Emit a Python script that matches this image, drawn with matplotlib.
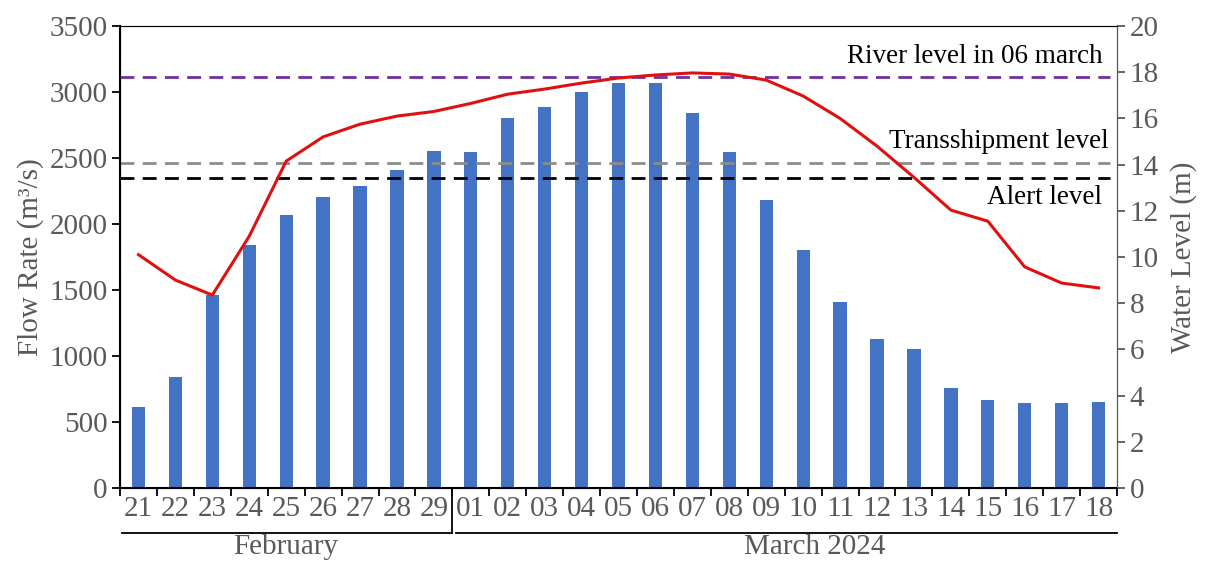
import numpy as np
import matplotlib.pyplot as plt

plt.rcParams['font.family'] = ['Liberation Serif', 'DejaVu Serif']

days = ['21', '22', '23', '24', '25', '26', '27', '28', '29',
        '01', '02', '03', '04', '05', '06', '07', '08', '09', '10',
        '11', '12', '13', '14', '15', '16', '17', '18']
flow_rate = [610, 840, 1460, 1840, 2065, 2205, 2290, 2410, 2555,
             2545, 2805, 2885, 3000, 3070, 3070, 2840, 2545, 2180, 1800,
             1410, 1130, 1050, 760, 665, 645, 645, 650]
water_level = [10.1, 9.0, 8.35, 10.9, 14.15, 15.2, 15.75, 16.1, 16.3,
               16.65, 17.05, 17.27, 17.53, 17.75, 17.88, 17.97, 17.92, 17.66, 16.97,
               16.0, 14.8, 13.45, 12.03, 11.55, 9.57, 8.87, 8.66]
river_0306 = 17.8
transship = 14.05
alert = 13.4
months = ['February', 'March 2024']
feb_days = 9

gray = '#595959'
fs = 21
fs_note = 19.5
fig = plt.figure(figsize=(12.05, 5.66), dpi=100)
ax = fig.add_axes([0.0996, 0.138, 0.8274, 0.816])
x = np.arange(len(days))

ax.bar(x, flow_rate, width=0.36, color='#4472C4', zorder=2)
ax.set_xlim(-0.5, len(days) - 0.5)
ax.set_ylim(0, 3500)
ax.set_yticks(np.arange(0, 3501, 500))
ax.set_xticks(x)
ax.set_xticklabels(days)
ax.set_xticks(np.arange(-0.5, len(days), 1), minor=True)
ax.tick_params(axis='x', which='major', length=0, pad=6, labelsize=fs, labelcolor=gray)
ax.tick_params(axis='x', which='minor', length=6, width=1.3, direction='out')
ax.tick_params(axis='y', length=6, width=1.3, pad=3, labelsize=fs, labelcolor=gray)
ax.set_ylabel('Flow Rate (m³/s)', fontsize=fs, color=gray, labelpad=4)
for s in ['left', 'bottom']:
    ax.spines[s].set_linewidth(1.5)
ax.spines['top'].set_color('#333333')

ax2 = ax.twinx()
ax2.plot(x, water_level, color='#E01010', lw=2.2, zorder=3)
ax2.axhline(river_0306, xmax=0.993, color='#7030A0', ls=(0, (5, 3)), lw=2)
ax2.axhline(transship, xmax=0.993, color='#8C8C8C', ls=(0, (5, 3)), lw=2)
ax2.axhline(alert, xmax=0.993, color='black', ls=(0, (5, 3)), lw=2)
ax2.set_ylim(0, 20)
ax2.set_yticks(np.arange(0, 21, 2))
ax2.tick_params(axis='y', length=6, width=1.3, pad=3, labelsize=fs, colors=gray)
ax2.spines['right'].set_color(gray)
ax2.set_ylabel('Water Level (m)', fontsize=fs, color=gray, labelpad=8)

ax2.text(26.1, river_0306 + 0.35, 'River level in 06 march',
         fontsize=fs_note, ha='right', va='bottom')
ax2.text(26.28, transship + 0.4, 'Transshipment level',
         fontsize=fs_note, ha='right', va='bottom')
ax2.text(26.1, alert - 0.3, 'Alert level',
         fontsize=fs_note, ha='right', va='top')

# month brackets under the day labels
tr = ax.get_xaxis_transform()
sep = feb_days - 0.5
ax.plot([-0.45, sep], [-0.097, -0.097], color='black', lw=1.3, transform=tr, clip_on=False)
ax.plot([sep + 0.1, len(days) - 0.5], [-0.097, -0.097], color='black', lw=1.3,
        transform=tr, clip_on=False)
ax.plot([sep, sep], [-0.005, -0.097], color='black', lw=1.3, transform=tr, clip_on=False)
ax.text((sep - 0.5) / 2, -0.1, months[0], transform=tr, ha='center', va='top',
        fontsize=fs, color=gray)
ax.text(18.3, -0.1, months[1], transform=tr, ha='center', va='top',
        fontsize=fs, color=gray)

fig.savefig('out.png')
